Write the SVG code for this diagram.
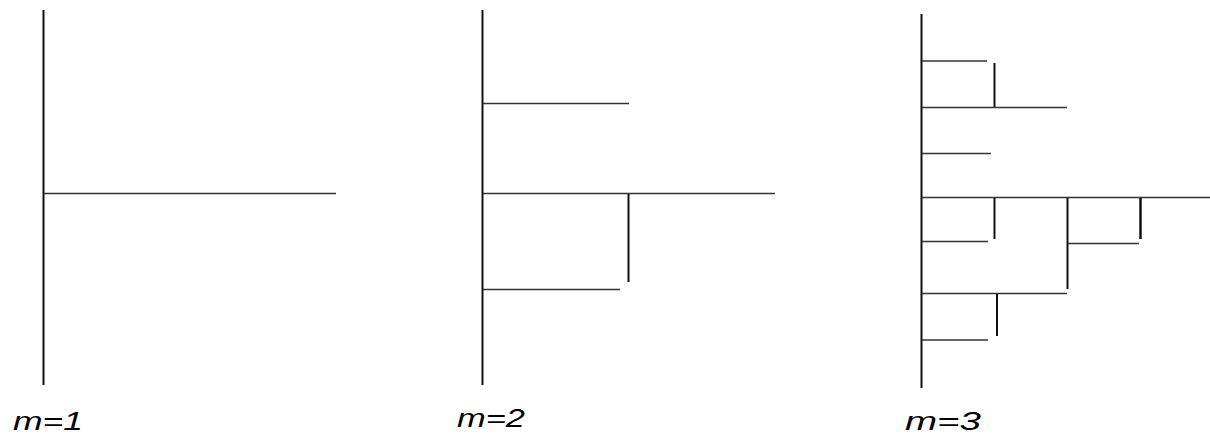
<svg xmlns="http://www.w3.org/2000/svg" width="1210" height="436" viewBox="0 0 1210 436">
<style>
.v{stroke:#111;stroke-width:2;fill:none}
.h{stroke:#333;stroke-width:1.6;fill:none}
.lbl{font-family:"Liberation Sans",Arial,sans-serif;font-style:italic;font-size:25px;fill:#000}
</style>
<rect width="1210" height="436" fill="#fff"/>
<g id="panel1">
<line class="v" x1="43.5" y1="10" x2="43.5" y2="385"/>
<line class="h" x1="44" y1="193.5" x2="336" y2="193.5"/>
<text class="lbl" x="13" y="430" textLength="70" lengthAdjust="spacingAndGlyphs">m=1</text>
</g>
<g id="panel2">
<line class="v" x1="482.5" y1="10" x2="482.5" y2="385"/>
<line class="h" x1="483" y1="103.5" x2="629" y2="103.5"/>
<line class="h" x1="483" y1="193.5" x2="775" y2="193.5"/>
<line class="v" x1="628.5" y1="194" x2="628.5" y2="282"/>
<line class="h" x1="483" y1="289.5" x2="620" y2="289.5"/>
<text class="lbl" x="457" y="427" textLength="68" lengthAdjust="spacingAndGlyphs">m=2</text>
</g>
<g id="panel3">
<line class="v" x1="921.5" y1="14" x2="921.5" y2="388"/>
<line class="h" x1="922" y1="61" x2="987" y2="61"/>
<line class="v" x1="994.5" y1="63" x2="994.5" y2="107"/>
<line class="h" x1="922" y1="107.5" x2="1067" y2="107.5"/>
<line class="h" x1="922" y1="153.5" x2="991" y2="153.5"/>
<line class="h" x1="922" y1="197.5" x2="1210" y2="197.5"/>
<line class="v" x1="994.5" y1="198" x2="994.5" y2="239"/>
<line class="h" x1="922" y1="241.5" x2="988" y2="241.5"/>
<line class="v" x1="1067.5" y1="198" x2="1067.5" y2="289"/>
<line class="h" x1="1068" y1="243.5" x2="1139" y2="243.5"/>
<line class="v" x1="1140.5" y1="198" x2="1140.5" y2="239" style="stroke-width:2.5"/>
<line class="h" x1="922" y1="293.5" x2="1067" y2="293.5"/>
<line class="v" x1="997" y1="294" x2="997" y2="336"/>
<line class="h" x1="922" y1="340" x2="988" y2="340"/>
<text class="lbl" x="905" y="430" textLength="76" lengthAdjust="spacingAndGlyphs">m=3</text>
</g>
</svg>
